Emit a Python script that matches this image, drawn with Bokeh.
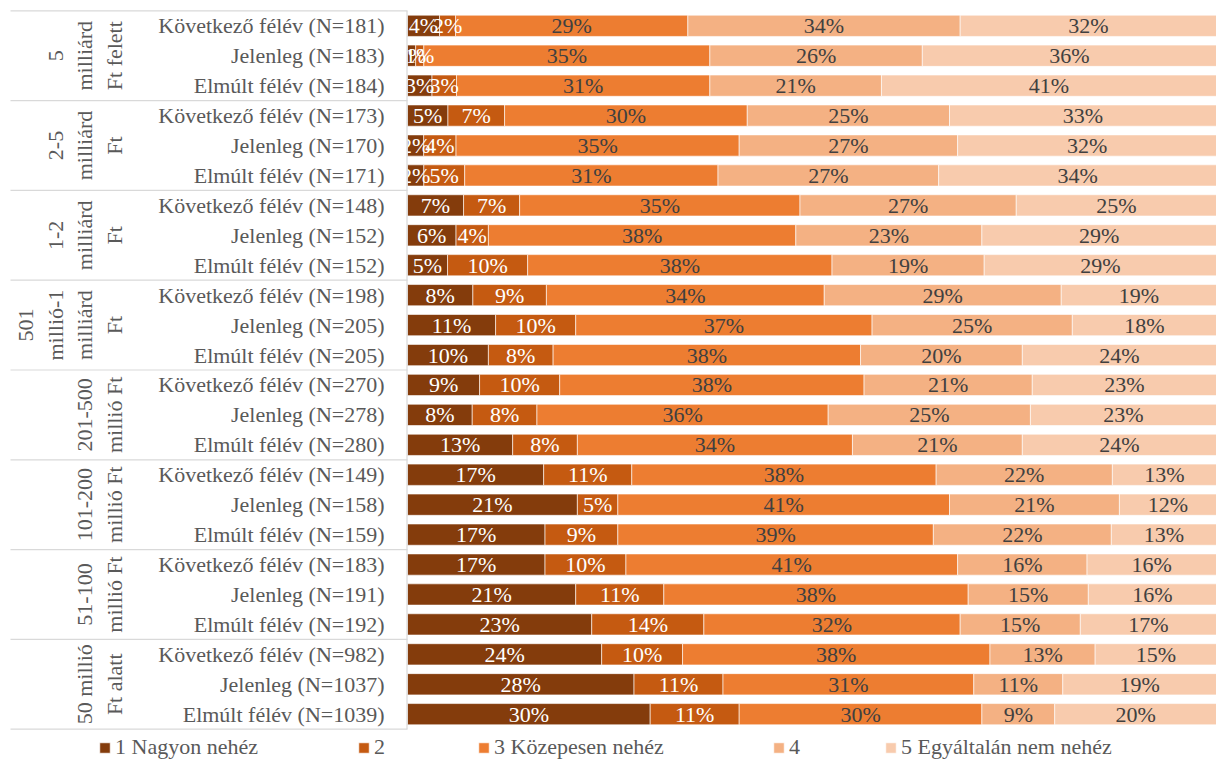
import math
from bokeh.plotting import figure
from bokeh.models import ColumnDataSource, Range1d, Legend, LegendItem
from bokeh.core.properties import value
from bokeh.embed import file_html
from bokeh.resources import INLINE

# ---------------- data ----------------
groups = [
    "5\nmilliárd\nFt felett",
    "2-5\nmilliárd\nFt",
    "1-2\nmilliárd\nFt",
    "501\nmillió-1\nmilliárd\nFt",
    "201-500\nmillió Ft",
    "101-200\nmillió Ft",
    "51-100\nmillió Ft",
    "50 millió\nFt alatt",
]
periods = ["Következő félév", "Jelenleg", "Elmúlt félév"]
n_values = [181, 183, 184, 173, 170, 171, 148, 152, 152, 198, 205, 205,
            270, 278, 280, 149, 158, 159, 183, 191, 192, 982, 1037, 1039]

series_names = ["1 Nagyon nehéz", "2", "3 Közepesen nehéz", "4",
                "5 Egyáltalán nem nehéz"]
s1 = [4, 1, 3, 5, 2, 2, 7, 6, 5, 8, 11, 10, 9, 8, 13, 17, 21, 17, 17, 21, 23, 24, 28, 30]
s2 = [2, 1, 3, 7, 4, 5, 7, 4, 10, 9, 10, 8, 10, 8, 8, 11, 5, 9, 10, 11, 14, 10, 11, 11]
s3 = [29, 35, 31, 30, 35, 31, 35, 38, 38, 34, 37, 38, 38, 36, 34, 38, 41, 39, 41, 38, 32, 38, 31, 30]
s4 = [34, 26, 21, 25, 27, 27, 27, 23, 19, 29, 25, 20, 21, 25, 21, 22, 21, 22, 16, 15, 15, 13, 11, 9]
s5 = [32, 36, 41, 33, 32, 34, 25, 29, 29, 19, 18, 24, 23, 23, 24, 13, 12, 13, 16, 16, 17, 15, 19, 20]
series = [s1, s2, s3, s4, s5]

colors = ["#843C0C", "#C55A11", "#ED7D31", "#F4B183", "#F8CBAD"]
label_colors = ["#FFFFFF", "#FFFFFF", "#404040", "#404040", "#404040"]

# ---------------- layout ----------------
FW, FH = 1216, 760
X0 = 407            # pixel where bars start
K = 100.0 / (FW - X0)  # data units per pixel (x)
ROW = 29.93         # pixel spacing of rows
Y0 = 25.3           # pixel of first row center
FONT_NAME = "Liberation Serif"
FONT = value(FONT_NAME)
GRAY = "#595959"

def xd(px):
    return (px - X0) * K

n_rows = len(n_values)
row_labels = []
for i, n in enumerate(n_values):
    row_labels.append(f"{periods[i % 3]} (N={n})")

p = figure(width=FW, height=FH, output_backend="svg", toolbar_location=None,
           x_range=Range1d(xd(0), 100),
           y_range=Range1d(-(FH - Y0) / ROW, Y0 / ROW),
           min_border=0, outline_line_color=None)
p.axis.visible = False
p.grid.visible = False
p.background_fill_color = "white"
p.border_fill_color = "white"

ys = [-i for i in range(n_rows)]
totals = [sum(s[i] for s in series) for i in range(n_rows)]

renderers = []
lab_x, lab_y, lab_t, lab_c = [], [], [], []
left = [0.0] * n_rows
for k, s in enumerate(series):
    w = [s[i] / totals[i] * 100 for i in range(n_rows)]
    right = [left[i] + w[i] for i in range(n_rows)]
    src = ColumnDataSource(dict(y=ys, left=list(left), right=right))
    r = p.hbar(y="y", left="left", right="right", height=0.71, source=src,
               fill_color=colors[k], line_color="white", line_width=0.6)
    renderers.append(r)
    for i in range(n_rows):
        lab_x.append(left[i] + w[i] / 2)
        lab_y.append(ys[i])
        lab_t.append(f"{s[i]}%")
        lab_c.append(label_colors[k])
    left = right

lsrc = ColumnDataSource(dict(x=lab_x, y=lab_y, t=lab_t, c=lab_c))
p.text(x="x", y="y", text="t", source=lsrc, text_color="c",
       text_font=FONT, text_font_size="22px",
       text_align="center", text_baseline="middle")

# row labels
rsrc = ColumnDataSource(dict(x=[xd(384)] * n_rows, y=ys, t=row_labels))
p.text(x="x", y="y", text="t", source=rsrc, text_color=GRAY,
       text_font=FONT, text_font_size="22px",
       text_align="right", text_baseline="middle")

# group labels
gsrc = ColumnDataSource(dict(x=[xd(126)] * len(groups),
                             y=[-(3 * g + 1) for g in range(len(groups))],
                             t=groups))
p.text(x="x", y="y", text="t", source=gsrc, text_color=GRAY,
       text_font=FONT, text_font_size="22px", angle=math.pi / 2,
       text_align="center", text_baseline="bottom", text_line_height=1.18)

# separators
sep_y = [-(3 * g - 0.5) for g in range(len(groups) + 1)]
p.segment(x0=[xd(10)] * len(sep_y), x1=[xd(407)] * len(sep_y),
          y0=sep_y, y1=sep_y, line_color="#D9D9D9", line_width=1.2)
p.segment(x0=[xd(406.5)], x1=[xd(406.5)], y0=[0.5], y1=[-(n_rows - 0.5)],
          line_color="#D9D9D9", line_width=1.2)

# legends
leg_x = [98, 357, 477, 772, 884]
for k, r in enumerate(renderers):
    lg = Legend(items=[LegendItem(label=series_names[k], renderers=[r])],
                location=(leg_x[k], 0), orientation="horizontal",
                glyph_width=13, glyph_height=13, label_standoff=4,
                label_text_font=FONT_NAME, label_text_font_size="22px",
                label_text_color=GRAY, padding=0, margin=0,
                border_line_alpha=0, background_fill_alpha=0)
    p.add_layout(lg)

open("out.html", "w").write(file_html(p, INLINE))
